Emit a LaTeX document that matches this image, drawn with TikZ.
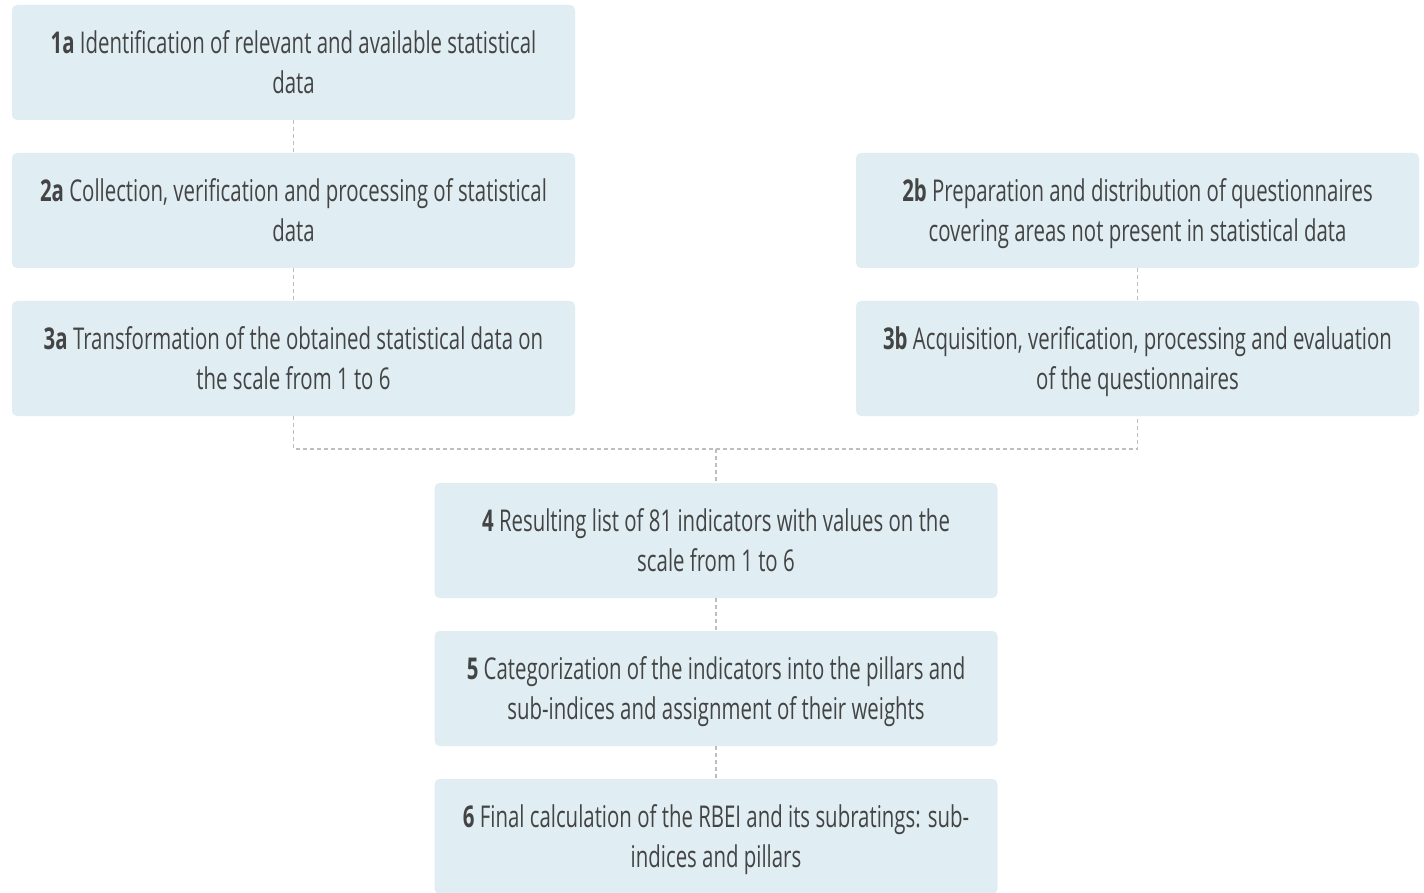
\documentclass[tikz,border=0pt]{standalone}
\usepackage{fontspec}
\setmainfont{Open Sans}[FakeStretch=0.68]
\usepackage{tikz}
\usetikzlibrary{calc}
\usepackage{xcolor}
\definecolor{step-blue}{RGB}{224,238,243}
\definecolor{step-text}{RGB}{68,68,68}
\definecolor{link-grey}{RGB}{190,190,190}
\tikzstyle{stepbox}=[rectangle, rounded corners=5pt, fill=step-blue, text=step-text,
	minimum width=563pt, minimum height=115pt, text width=556pt, align=flush center,
	inner sep=0pt, font=\fontsize{30}{39.5}\selectfont]
\tikzstyle{link}=[draw=link-grey, line width=1.5pt, dash pattern=on 4pt off 3pt]
\newcommand{\twolines}[3]{\rule{0pt}{36pt}\textbf{#1} #2\\#3\rule[-14pt]{0pt}{14pt}}

\begin{document}
\begin{tikzpicture}[x=1pt,y=-1pt]
	\useasboundingbox (0,0) rectangle (1424,893);
	\node[stepbox] (s1a) at (293.5,62.5) {\twolines{1a}{Identification of relevant and available statistical}{data}};
	\node[stepbox] (s2a) at (293.5,210.5) {\twolines{2a}{Collection, verification and processing of statistical}{data}};
	\node[stepbox] (s3a) at (293.5,358.5) {\twolines{3a}{Transformation of the obtained statistical data on}{the scale from 1 to 6}};
	\node[stepbox] (s2b) at (1137.5,210.5) {\twolines{2b}{Preparation and distribution of questionnaires}{covering areas not present in statistical data}};
	\node[stepbox] (s3b) at (1137.5,358.5) {\twolines{3b}{Acquisition, verification, processing and evaluation}{of the questionnaires}};
	\node[stepbox] (s4) at (716,540.5) {\twolines{4}{Resulting list of 81 indicators with values on the}{scale from 1 to 6}};
	\node[stepbox] (s5) at (716,688.5) {\twolines{5}{Categorization of the indicators into the pillars and}{sub-indices and assignment of their weights}};
	\node[stepbox] (s6) at (716,836.5) {\twolines{6}{Final calculation of the RBEI and its subratings: sub-}{indices and pillars}};
	\coordinate (join) at (716,449);
	\draw[link] (s1a) -- (s2a);
	\draw[link] (s2a) -- (s3a);
	\draw[link] (s2b) -- (s3b);
	\draw[link] (s3a.south) |- (join) -| (s3b.south);
	\draw[link] (join) -- (s4.north);
	\draw[link] (s4) -- (s5);
	\draw[link] (s5) -- (s6);
\end{tikzpicture}
\end{document}
